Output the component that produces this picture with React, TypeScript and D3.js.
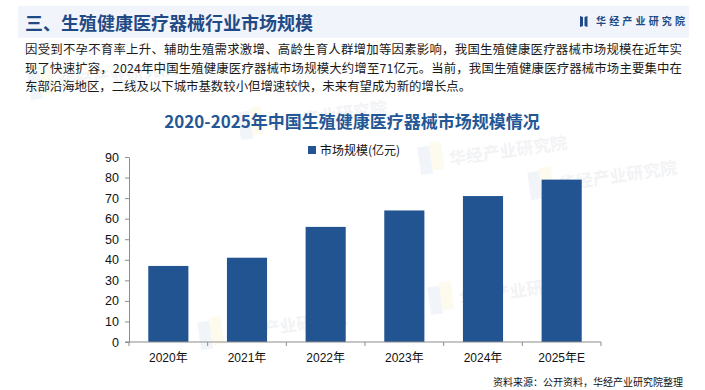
import { useEffect, useRef } from 'react';
import * as d3 from 'd3';

const years = ['2020年', '2021年', '2022年', '2023年', '2024年', '2025年E'];
const marketSize = [37, 41, 56, 64, 71, 79];
const yTicks = [0, 10, 20, 30, 40, 50, 60, 70, 80, 90];

const headerTitle = '三、生殖健康医疗器械行业市场规模';
const brand = '华经产业研究院';
const paragraph = [
  '因受到不孕不育率上升、辅助生殖需求激增、高龄生育人群增加等因素影响，我国生殖健康医疗器械市场规模在近年实',
  '现了快速扩容，2024年中国生殖健康医疗器械市场规模大约增至71亿元。当前，我国生殖健康医疗器械市场主要集中在',
  '东部沿海地区，二线及以下城市基数较小但增速较快，未来有望成为新的增长点。',
];
const chartTitle = '2020-2025年中国生殖健康医疗器械市场规模情况';
const seriesName = '市场规模(亿元)';
const source = '资料来源：公开资料，华经产业研究院整理';

const CJK = '"Noto Sans CJK SC", "Noto Sans", sans-serif';
const LATIN = '"Liberation Sans", Arial, "Noto Sans CJK SC", sans-serif';

export default function App() {
  const svgRef = useRef<SVGSVGElement>(null);

  useEffect(() => {
    if (!svgRef.current) return;
    const width = 705;
    const height = 390;
    const barColor = '#215490';
    const navy = '#1f4a85';

    d3.select(svgRef.current).selectAll('*').remove();
    const svg = d3.select(svgRef.current)
      .attr('width', width)
      .attr('height', height);

    svg.append('rect').attr('width', width).attr('height', height).attr('fill', '#ffffff');

    // faint watermarks, kept inside the frame
    const marks = [
      [270, 130], [450, 165], [60, 90], [230, 340], [460, 305], [560, 190],
    ];
    marks.forEach(([x, y]) => {
      const w = svg.append('g').attr('transform', `translate(${x},${y}) rotate(-8)`);
      w.append('rect')
        .attr('x', -30).attr('y', -22).attr('width', 12).attr('height', 28)
        .attr('fill', '#eef2f9').attr('opacity', 0.8);
      w.append('rect')
        .attr('x', -18).attr('y', -25).attr('width', 12).attr('height', 28)
        .attr('fill', '#fdf9ea').attr('opacity', 0.8);
      w.append('text')
        .attr('x', 0).attr('y', 0)
        .style('font-family', CJK).style('font-size', '17px').style('font-weight', '700')
        .style('fill', '#f2f3f5')
        .text(brand);
    });

    // header band
    svg.append('rect')
      .attr('x', 18).attr('y', 6).attr('width', 671).attr('height', 32)
      .attr('fill', '#f0f4fb').attr('opacity', 0.92);

    svg.append('text')
      .attr('x', 25).attr('y', 30)
      .style('font-family', CJK).style('font-size', '18px').style('font-weight', '700')
      .style('fill', navy)
      .text(headerTitle);

    // brand logo
    const logo = svg.append('g').attr('transform', 'translate(580,16)');
    logo.append('path').attr('d', 'M0,0 L3,1 L3,10 L0,11 Z').attr('fill', navy);
    logo.append('path').attr('d', 'M4.5,1 L7.5,0 L7.5,11 L4.5,10 Z').attr('fill', navy);
    svg.append('text')
      .attr('x', 596).attr('y', 25)
      .attr('textLength', 89).attr('lengthAdjust', 'spacing')
      .style('font-family', CJK).style('font-size', '10px').style('font-weight', '700')
      .style('fill', navy)
      .text(brand);

    // paragraph
    const baselines = [54, 72.5, 91];
    paragraph.forEach((line, i) => {
      const t = svg.append('text')
        .attr('x', 25).attr('y', baselines[i])
        .style('font-family', CJK).style('font-size', '12.4px')
        .style('fill', '#1a1a1a')
        .text(line);
      if (i < 2) t.attr('textLength', 657).attr('lengthAdjust', 'spacing');
    });

    // chart title
    svg.append('text')
      .attr('x', 352).attr('y', 128)
      .attr('text-anchor', 'middle')
      .style('font-family', CJK).style('font-size', '17px').style('font-weight', '700')
      .style('fill', '#245796')
      .text(chartTitle);

    // legend
    svg.append('rect')
      .attr('x', 308).attr('y', 146).attr('width', 8).attr('height', 8)
      .attr('fill', barColor);
    svg.append('text')
      .attr('x', 320).attr('y', 154.5)
      .style('font-family', CJK).style('font-size', '12px')
      .style('fill', '#111')
      .text(seriesName);

    // scales
    const x = d3.scaleBand<string>()
      .domain(years)
      .range([129, 601])
      .paddingInner(0.49)
      .paddingOuter(0.245);
    const y = d3.scaleLinear().domain([0, 90]).range([342, 157]);

    // bars
    svg.append('g')
      .selectAll('rect')
      .data(marketSize)
      .join('rect')
      .attr('x', (_, i) => x(years[i]) as number)
      .attr('y', d => y(d))
      .attr('width', x.bandwidth())
      .attr('height', d => y(0) - y(d))
      .attr('fill', barColor);

    // y axis
    const yAxis = svg.append('g')
      .attr('transform', 'translate(129,0)')
      .call(d3.axisLeft(y).tickValues(yTicks).tickSize(4).tickSizeOuter(0).tickPadding(6));
    yAxis.select('.domain').attr('stroke', '#8c8c8c');
    yAxis.selectAll('line').attr('stroke', '#8c8c8c');
    yAxis.selectAll('text')
      .style('font-family', LATIN).style('font-size', '12.5px').style('fill', '#111');

    // x axis: line plus ticks at category boundaries
    const xAxis = svg.append('g');
    xAxis.append('line')
      .attr('x1', 125).attr('x2', 601).attr('y1', y(0)).attr('y2', y(0))
      .attr('stroke', '#8c8c8c');
    const step = x.step();
    const edges = d3.range(years.length + 1).map(i => 129 + i * step);
    xAxis.selectAll('line.tick')
      .data(edges)
      .join('line')
      .attr('class', 'tick')
      .attr('x1', d => d).attr('x2', d => d)
      .attr('y1', y(0)).attr('y2', y(0) + 4)
      .attr('stroke', '#8c8c8c');
    xAxis.selectAll('text')
      .data(years)
      .join('text')
      .attr('x', d => (x(d) as number) + x.bandwidth() / 2)
      .attr('y', 362)
      .attr('text-anchor', 'middle')
      .style('font-family', LATIN).style('font-size', '12px').style('fill', '#111')
      .text(d => d);

    // source
    svg.append('text')
      .attr('x', 683).attr('y', 386)
      .attr('text-anchor', 'end')
      .style('font-family', CJK).style('font-size', '10px')
      .style('fill', '#111')
      .text(source);
  }, []);

  return (
    <div style={{ position: 'absolute', left: 0, top: 0 }}>
      <svg ref={svgRef} style={{ display: 'block' }}></svg>
    </div>
  );
}
